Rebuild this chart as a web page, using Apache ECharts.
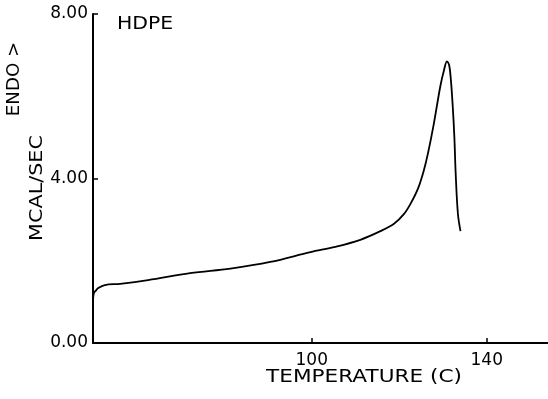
<!DOCTYPE html>
<html>
<head>
<meta charset="utf-8">
<script src="https://cdn.jsdelivr.net/npm/echarts@6/dist/echarts.min.js"></script>
<style>html,body{margin:0;padding:0;background:#fff;}#c{width:548px;height:399px;}</style>
</head>
<body>
<div id="c"></div>
<script>
const temperature = [50, 50.2, 50.7, 51.1, 52.7, 56.2, 62.6, 72.2, 81.4, 90.5, 99.7, 105.4, 111.1, 115.7, 118.8, 121.1, 122.6, 124.3, 125.6, 126.6, 127.9, 129.4, 130.2, 130.9, 131.4, 131.8, 132.2, 132.6, 132.9, 133.4, 134.0];
const heatFlow = [1.04, 1.21, 1.28, 1.33, 1.41, 1.44, 1.53, 1.70, 1.81, 1.97, 2.21, 2.34, 2.51, 2.72, 2.90, 3.14, 3.39, 3.76, 4.19, 4.63, 5.33, 6.25, 6.62, 6.85, 6.76, 6.40, 5.80, 5.00, 4.12, 3.15, 2.72];
const xTickValues = [100, 140];
const yTickValues = [0, 4, 8];
const sampleLabel = 'HDPE';
const xTitle = 'TEMPERATURE (C)';
const yTitle = 'MCAL/SEC';
const yTitle2 = 'ENDO >';

const FONT = 'DejaVu Sans';
const chart = echarts.init(document.getElementById('c'), null, {renderer: 'canvas'});
chart.setOption({
  animation: false,
  backgroundColor: '#fff',
  grid: {left: 93, right: 0, top: 14, bottom: 56, containLabel: false},
  xAxis: {
    type: 'value', min: 50, max: 154, interval: 10,
    axisLine: {show: true, onZero: false, lineStyle: {color: '#000', width: 2}},
    axisTick: {show: true, inside: true, length: 5, customValues: xTickValues, lineStyle: {color: '#000', width: 1.5}},
    axisLabel: {show: true, customValues: xTickValues, margin: 9, color: '#000', fontFamily: FONT, fontSize: 17},
    splitLine: {show: false}
  },
  yAxis: {
    type: 'value', min: 0, max: 8, interval: 4,
    axisLine: {show: true, onZero: false, lineStyle: {color: '#000', width: 2}},
    axisTick: {show: true, inside: true, length: 5, customValues: yTickValues, lineStyle: {color: '#000', width: 1.5}},
    axisLabel: {show: true, customValues: yTickValues, margin: 5, color: '#000', fontFamily: FONT, fontSize: 17,
      formatter: v => v.toFixed(2)},
    splitLine: {show: false}
  },
  series: [{
    type: 'line',
    data: temperature.map((t, i) => [t, heatFlow[i]]),
    showSymbol: false,
    smooth: 0.35,
    lineStyle: {color: '#000', width: 1.8},
    clip: false
  }],
  graphic: [
    {type: 'text', x: 117, y: 25, scaleX: 1.2, style: {text: sampleLabel, font: '17px "DejaVu Sans"', fill: '#000', align: 'left', verticalAlign: 'middle'}},
    {type: 'text', x: 364, y: 377, scaleX: 1.2, style: {text: xTitle, font: '18px "DejaVu Sans"', fill: '#000', align: 'center', verticalAlign: 'middle'}},
    {type: 'text', x: 38, y: 188, rotation: Math.PI / 2, scaleX: 1.22, style: {text: yTitle, font: '17px "DejaVu Sans"', fill: '#000', align: 'center', verticalAlign: 'middle'}},
    {type: 'text', x: 15, y: 79, rotation: Math.PI / 2, scaleX: 1.07, style: {text: yTitle2, font: '17px "DejaVu Sans"', fill: '#000', align: 'center', verticalAlign: 'middle'}}
  ]
});
</script>
</body>
</html>
